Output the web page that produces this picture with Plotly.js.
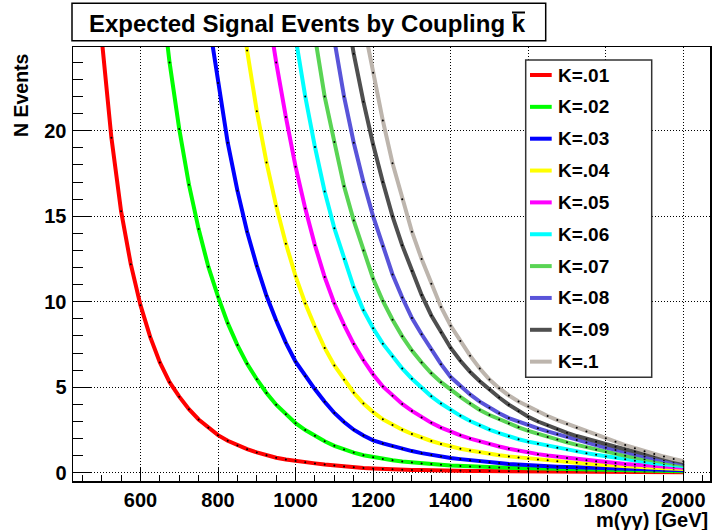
<!DOCTYPE html>
<html>
<head>
<meta charset="utf-8">
<script src="https://cdn.plot.ly/plotly-3.0.1.min.js"></script>
<style>
html,body{margin:0;padding:0;background:#fff;}
#chart{width:713px;height:530px;}
</style>
</head>
<body>
<div id="chart"></div>
<script>
// ---------- data ----------
const mass = [500,525,550,575,600,625,650,675,700,725,750,775,800,825,850,875,900,925,950,975,
  1000,1025,1050,1075,1100,1125,1150,1175,1200,1225,1250,1275,1300,1325,1350,1375,1400,1425,1450,1475,
  1500,1525,1550,1575,1600,1625,1650,1675,1700,1725,1750,1775,1800,1825,1850,1875,1900,1925,1950,1975,2000];

const seriesNames = ["K=.01","K=.02","K=.03","K=.04","K=.05","K=.06","K=.07","K=.08","K=.09","K=.1"];
const seriesColors = ["#ff0000","#00ff00","#0000ff","#ffff00","#ff00ff","#00ffff","#59d454","#5954d9","#4f4f4f","#bdb5ad"];

// each series ends at 2000 GeV; it starts where the curve enters the plot from the top
const k01 = [25.4,19.6,15.3,12.2,9.8,7.95,6.45,5.3,4.45,3.72,
  3.12,2.63,2.2,1.87,1.6,1.38,1.19,1.02,0.88,0.78,
  0.69,0.61,0.55,0.48,0.42,0.37,0.32,0.28,0.25,0.22,
  0.2,0.18,0.17,0.16,0.14,0.13,0.12,0.115,0.11,0.105,
  0.1,0.095,0.09,0.085,0.08,0.077,0.073,0.069,0.065,0.062,
  0.058,0.054,0.05,0.048,0.045,0.043,0.04,0.038,0.035,0.033,0.03];
const k02 = [28.8,24.0,20.1,16.85,14.25,12.05,10.3,8.75,7.47,6.37,
  5.47,4.67,3.98,3.43,2.9,2.5,2.16,1.84,1.58,1.36,
  1.18,1.03,0.91,0.81,0.73,0.66,0.6,0.55,0.51,0.47,
  0.43,0.4,0.37,0.35,0.33,0.315,0.3,0.285,0.27,0.255,
  0.24,0.225,0.21,0.197,0.185,0.172,0.16,0.15,0.14,0.13,
  0.12,0.112,0.105,0.097,0.09];
const k03 = [26.6,22.8,19.3,16.5,14.1,12.1,10.35,8.9,7.6,6.5,
  5.65,4.88,4.15,3.5,2.97,2.52,2.18,1.9,1.72,1.55,
  1.4,1.27,1.15,1.04,0.95,0.87,0.8,0.73,0.67,0.62,
  0.57,0.52,0.48,0.44,0.41,0.38,0.36,0.34,0.32,0.3,
  0.28,0.26,0.245,0.23,0.215,0.2,0.19,0.175,0.16,0.15];
const k04 = [28.7,24.7,21.15,18.15,15.6,13.4,11.5,9.9,8.54,7.3,
  6.28,5.44,4.68,4.05,3.55,3.13,2.8,2.52,2.27,2.05,
  1.86,1.69,1.53,1.41,1.3,1.2,1.1,1.03,0.96,0.9,
  0.84,0.78,0.73,0.68,0.63,0.58,0.53,0.49,0.45,0.41,
  0.38,0.35,0.32,0.29,0.27,0.24,0.22];
const k05 = [27.6,24.0,20.8,17.9,15.45,13.3,11.45,9.9,8.65,7.53,
  6.58,5.75,5.05,4.5,4.03,3.62,3.24,2.92,2.64,2.4,
  2.19,2.0,1.83,1.68,1.54,1.41,1.29,1.18,1.09,1.01,
  0.94,0.87,0.8,0.74,0.68,0.62,0.57,0.52,0.48,0.44,
  0.4,0.36,0.33,0.3];
const k06 = [25.45,22.0,19.05,16.45,14.3,12.5,10.85,9.5,8.45,7.55,
  6.8,6.1,5.5,4.95,4.47,4.05,3.67,3.33,3.03,2.77,
  2.53,2.32,2.13,1.96,1.82,1.7,1.58,1.46,1.35,1.25,
  1.15,1.05,0.96,0.87,0.79,0.71,0.63,0.56,0.5,0.44,0.38];
const k07 = [25.5,22.0,19.35,16.75,14.75,13.0,11.35,10.05,8.95,7.98,
  7.15,6.45,5.82,5.3,4.84,4.44,4.05,3.67,3.38,3.12,
  2.88,2.66,2.45,2.27,2.1,1.94,1.78,1.63,1.49,1.35,
  1.22,1.1,0.99,0.89,0.79,0.7,0.61,0.53,0.45];
const k08 = [25.3,22.0,19.3,17.0,15.0,13.25,11.6,10.25,9.05,8.1,
  7.2,6.35,5.6,5.05,4.58,4.16,3.8,3.48,3.2,2.98,
  2.8,2.6,2.42,2.25,2.08,1.92,1.77,1.62,1.47,1.33,
  1.2,1.07,0.95,0.84,0.73,0.62,0.52];
const k09 = [27.8,24.5,21.7,19.2,17.0,15.0,13.3,11.8,10.4,9.2,
  8.2,7.3,6.55,5.9,5.35,4.85,4.4,3.98,3.6,3.28,
  3.0,2.76,2.54,2.34,2.15,1.98,1.82,1.67,1.52,1.38,
  1.25,1.12,1.0,0.88,0.74,0.6];
const k10 = [26.3,23.4,20.6,18.1,16.0,14.1,12.5,11.05,9.7,8.6,
  7.7,6.85,6.1,5.45,4.95,4.52,4.17,3.87,3.58,3.32,
  3.08,2.86,2.64,2.42,2.21,2.02,1.82,1.62,1.44,1.26,
  1.1,0.95,0.81,0.68];

const seriesValues = [k01,k02,k03,k04,k05,k06,k07,k08,k09,k10];

// ---------- layout helpers ----------
const W = 713, H = 530;
const M = {l:73, r:3, t:47, b:49};
const pw = W - M.l - M.r, ph = H - M.t - M.b;
const xp = px => (px - M.l) / pw;
const yp = py => (H - M.b - py) / ph;
const FONT = '"Liberation Sans", Arial, Helvetica, sans-serif';

const traces = seriesValues.map((vals, i) => ({
  type: 'scatter',
  mode: 'lines+markers',
  name: seriesNames[i],
  x: mass.slice(mass.length - vals.length),
  y: vals,
  line: {color: seriesColors[i], width: 4},
  marker: {color: '#000', size: 2},
  showlegend: false,
  hoverinfo: 'skip'
}));

const shapes = [];
const annotations = [];

// title box
shapes.push({type:'rect', xref:'paper', yref:'paper',
  x0: xp(72), x1: xp(545.7), y0: yp(40.7), y1: yp(3.3),
  line:{color:'#000', width:1.5}, fillcolor:'#fff'});
annotations.push({xref:'paper', yref:'paper', x: xp(307), y: yp(23),
  xanchor:'center', yanchor:'middle', showarrow:false,
  text:'<b>Expected Signal Events by Coupling k</b>',
  font:{family:FONT, size:24, color:'#000'}});
// bar over the k
shapes.push({type:'line', xref:'paper', yref:'paper',
  x0: xp(512), x1: xp(525), y0: yp(12.5), y1: yp(12.5),
  line:{color:'#000', width:2}});

// legend box
shapes.push({type:'rect', xref:'paper', yref:'paper',
  x0: xp(525.7), x1: xp(651.7), y0: yp(377.3), y1: yp(60),
  line:{color:'#333', width:1.5}, fillcolor:'#fff'});
seriesNames.forEach((n, i) => {
  const cy = 75 + 31.85 * i;
  shapes.push({type:'line', xref:'paper', yref:'paper',
    x0: xp(530), x1: xp(551.7), y0: yp(cy), y1: yp(cy),
    line:{color: seriesColors[i], width:4}});
  annotations.push({xref:'paper', yref:'paper', x: xp(555.5), y: yp(cy),
    xanchor:'left', yanchor:'middle', showarrow:false,
    text:'<b>' + n + '</b>', font:{family:FONT, size:19, color:'#000'}});
});

// axis titles
annotations.push({xref:'paper', yref:'paper', x: xp(21), y: yp(51),
  xanchor:'center', yanchor:'top', textangle:-90, showarrow:false,
  text:'<b>N Events</b>', font:{family:FONT, size:19.5, color:'#000'}});
annotations.push({xref:'paper', yref:'paper', x: xp(710), y: yp(519.5),
  xanchor:'right', yanchor:'middle', showarrow:false,
  text:'<b>m(γγ) [GeV]</b>', font:{family:FONT, size:20, color:'#000'}});

const axisCommon = {
  showgrid: true, gridcolor:'#000', gridwidth:1, griddash:'1px,2px',
  zeroline:false, showline:true, mirror:true, linecolor:'#000', linewidth:1.5,
  ticks:'inside', tickwidth:1, tickcolor:'#000',
  tickfont:{family:FONT, size:20, color:'#000', weight:'bold'},
  fixedrange:true
};

const layout = {
  width: W, height: H,
  margin: {l:M.l, r:M.r, t:M.t, b:M.b, pad:0},
  paper_bgcolor:'#fff', plot_bgcolor:'#fff',
  showlegend:false,
  font:{family:FONT, color:'#000'},
  xaxis: Object.assign({}, axisCommon, {
    range:[426, 2068.7], tick0:0, dtick:200, ticklen:13,
    minor:{ticks:'inside', ticklen:6.5, tick0:0, dtick:50, tickcolor:'#000', tickwidth:1, showgrid:false}
  }),
  yaxis: Object.assign({}, axisCommon, {
    range:[-0.48, 24.9], tick0:0, dtick:5, ticklen:19, ticklabelstandoff:1,
    minor:{ticks:'inside', ticklen:9.5, tick0:0, dtick:1, tickcolor:'#000', tickwidth:1, showgrid:false}
  }),
  shapes: shapes,
  annotations: annotations
};

Plotly.newPlot('chart', traces, layout, {displayModeBar:false, staticPlot:true});
</script>
</body>
</html>
